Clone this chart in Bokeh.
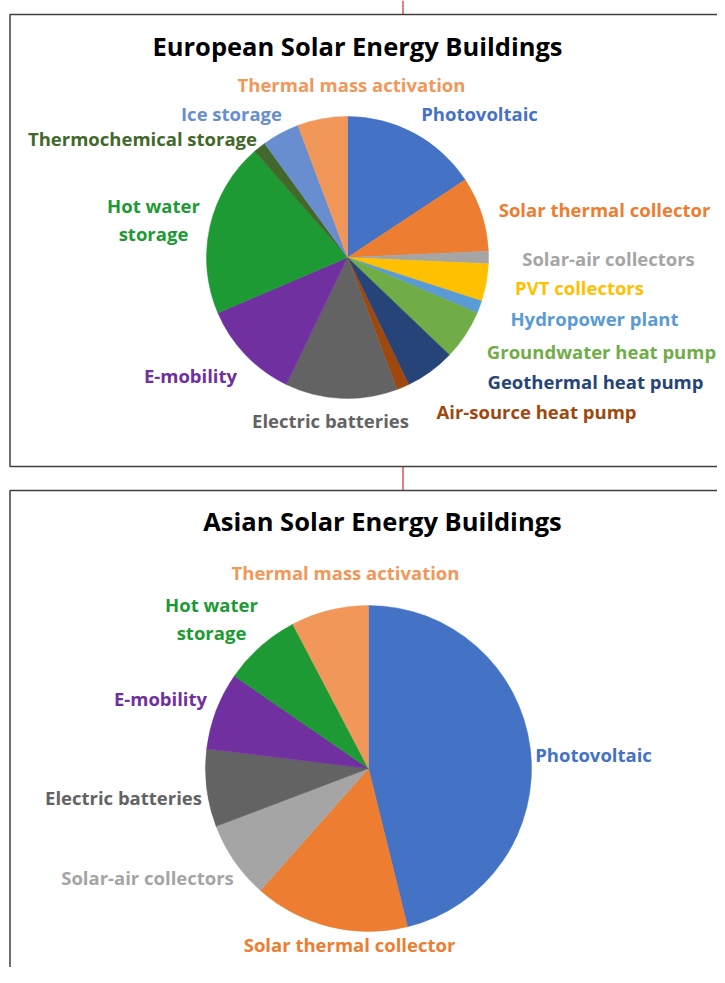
import numpy as np
from bokeh.plotting import figure
from bokeh.models import Range1d, ColumnDataSource
from bokeh.core.properties import value
from bokeh.embed import file_html
from bokeh.resources import INLINE

# ---------------- data ----------------
eu_title = "European Solar Energy Buildings"
eu_labels = ["Photovoltaic", "Solar thermal collector", "Solar-air collectors", "PVT collectors",
             "Hydropower plant", "Groundwater heat pump", "Geothermal heat pump", "Air-source heat pump",
             "Electric batteries", "E-mobility", "Hot water\nstorage", "Thermochemical storage",
             "Ice storage", "Thermal mass activation"]
eu_values = [11, 6, 1, 3, 1, 4, 4, 1, 9, 8, 14, 1, 3, 4]
eu_colors = ["#4472C4", "#ED7D31", "#A5A5A5", "#FFC000", "#5B9BD5", "#70AD47", "#264478", "#9E480E",
             "#636363", "#7030A0", "#1E9A34", "#43682B", "#698ED0", "#F1975A"]

asia_title = "Asian Solar Energy Buildings"
asia_labels = ["Photovoltaic", "Solar thermal collector", "Solar-air collectors", "Electric batteries",
               "E-mobility", "Hot water\nstorage", "Thermal mass activation"]
asia_values = [6, 2, 1, 1, 1, 1, 1]
asia_colors = ["#4472C4", "#ED7D31", "#A5A5A5", "#636363", "#7030A0", "#1E9A34", "#F1975A"]

# ---------------- layout (page pixel positions) ----------------
eu_center, eu_radius = (347, 257), 141
asia_center, asia_radius = (368, 768), 163
eu_title_pos = (357, 45)
asia_title_pos = (382, 520)
eu_label_pos = [(479, 113), (604, 209), (608, 258), (579, 287), (594, 318), (601, 351), (595, 381),
                (536, 411), (330, 420), (190, 375), (153, 219), (142, 138), (231, 113), (351, 84)]
asia_label_pos = [(593, 754), (349, 944), (147, 877), (123, 797), (160, 698), (211, 618), (345, 572)]

W, H = 717, 967
FONT = "Open Sans"

p = figure(width=W, height=H, output_backend="svg", toolbar_location=None,
           x_range=Range1d(0, W), y_range=Range1d(-H, 0),
           min_border=0, min_border_left=0, min_border_right=0, min_border_top=0, min_border_bottom=0)
p.axis.visible = False
p.grid.visible = False
p.outline_line_color = None
p.background_fill_color = "white"
p.border_fill_color = "white"

# panel borders
for top, bottom in [(14, 466), (490, 1000)]:
    p.line([740, 9.5, 9.5, 740], [-top, -top, -bottom, -bottom], line_color="#404040", line_width=1.5)
# red connector line
p.line([402.5, 402.5], [0, -14], line_color="#C00000", line_width=1)
p.line([402.5, 402.5], [-466, -490], line_color="#C00000", line_width=1)


def draw_pie(values, colors, labels, center, radius, label_pos, title, title_pos):
    v = np.array(values, dtype=float)
    frac = v / v.sum()
    cum = np.concatenate([[0], np.cumsum(frac)]) * 2 * np.pi  # clockwise from top
    start = np.pi / 2 - cum[1:]
    end = np.pi / 2 - cum[:-1]
    src = ColumnDataSource(dict(start=start, end=end, color=colors))
    p.wedge(x=center[0], y=-center[1], radius=radius, start_angle="start", end_angle="end",
            direction="anticlock", fill_color="color", line_color="color", line_width=0.5, source=src)
    lsrc = ColumnDataSource(dict(x=[q[0] for q in label_pos], y=[-q[1] for q in label_pos],
                                 text=labels, color=colors))
    p.text(x="x", y="y", text="text", text_color="color", source=lsrc, text_align="center",
           text_baseline="middle", text_font=value(FONT), text_font_style="bold",
           text_font_size="18.5px", text_line_height=1.1)
    p.text(x=[title_pos[0]], y=[-title_pos[1]], text=[title], text_color="black", text_align="center",
           text_baseline="middle", text_font=value(FONT), text_font_style="bold", text_font_size="25.5px")


draw_pie(eu_values, eu_colors, eu_labels, eu_center, eu_radius, eu_label_pos, eu_title, eu_title_pos)
draw_pie(asia_values, asia_colors, asia_labels, asia_center, asia_radius, asia_label_pos, asia_title,
         asia_title_pos)

open("out.html", "w").write(file_html(p, INLINE))
